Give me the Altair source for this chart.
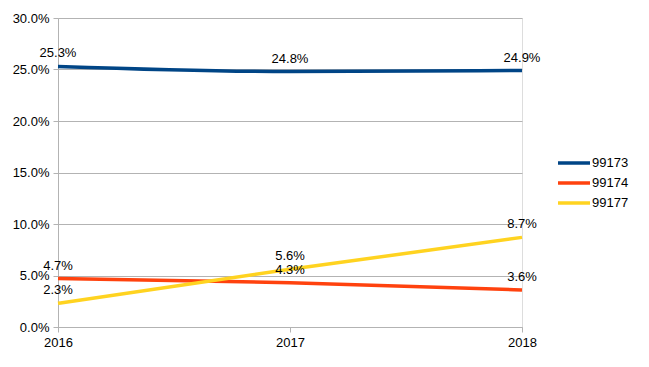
import altair as alt
import pandas as pd

years = ["2016", "2017", "2018"]
series_names = ["99173", "99174", "99177"]
s99173 = [25.3, 24.8, 24.9]
s99174 = [4.7, 4.3, 3.6]
s99177 = [2.3, 5.6, 8.7]
colors = ["#004586", "#ff420e", "#ffd320"]
y_ticks = [0, 5, 10, 15, 20, 25, 30]

rows = []
for name, vals in zip(series_names, [s99173, s99174, s99177]):
    for yr, v in zip(years, vals):
        rows.append({"year": yr, "series": name, "value": v / 100.0,
                     "label": f"{v:.1f}%"})
df = pd.DataFrame(rows)

FONT = "Liberation Sans"

x_enc = alt.X("year:O", scale=alt.Scale(type="point", domain=years, padding=0),
              axis=alt.Axis(title=None, labelAngle=0, labelFontSize=13,
                            labelFont=FONT, labelColor="#000000",
                            tickColor="#b3b3b3", tickSize=5, domain=True,
                            domainColor="#b3b3b3", labelPadding=4, grid=False))
y_enc = alt.Y("value:Q", scale=alt.Scale(domain=[0, 0.30], nice=False),
              axis=alt.Axis(title=None, values=[t / 100 for t in y_ticks],
                            format=".1%", labelFontSize=13, labelFont=FONT,
                            labelColor="#000000", tickColor="#b3b3b3",
                            tickSize=5, domainColor="#b3b3b3",
                            gridColor="#b3b3b3", labelPadding=4))

color_enc = alt.Color("series:N", scale=alt.Scale(domain=series_names, range=colors),
                      legend=alt.Legend(title=None, orient="none", legendX=509,
                                        legendY=138, symbolType="M-3.2,0H3.2",
                                        symbolStrokeWidth=3.5, symbolSize=100,
                                        labelFontSize=13, labelFont=FONT,
                                        labelColor="#000000", rowPadding=6,
                                        labelOffset=11))

lines = alt.Chart(df).mark_line(strokeWidth=3.5, interpolate="monotone").encode(
    x=x_enc, y=y_enc, color=color_enc)

labels = alt.Chart(df).mark_text(dy=-13, fontSize=13, font=FONT,
                                 color="#000000").encode(
    x=alt.X("year:O"), y=alt.Y("value:Q"), text="label:N")

chart = (lines + labels).properties(
    width=464, height=309,
    autosize=alt.AutoSizeParams(type="none"),
    padding={"left": 50, "top": 10, "right": 110, "bottom": 30},
).configure_view(stroke="#b3b3b3", strokeWidth=1).configure(background="white")

chart.save("out.html", embed_options={"renderer": "svg", "actions": False})
